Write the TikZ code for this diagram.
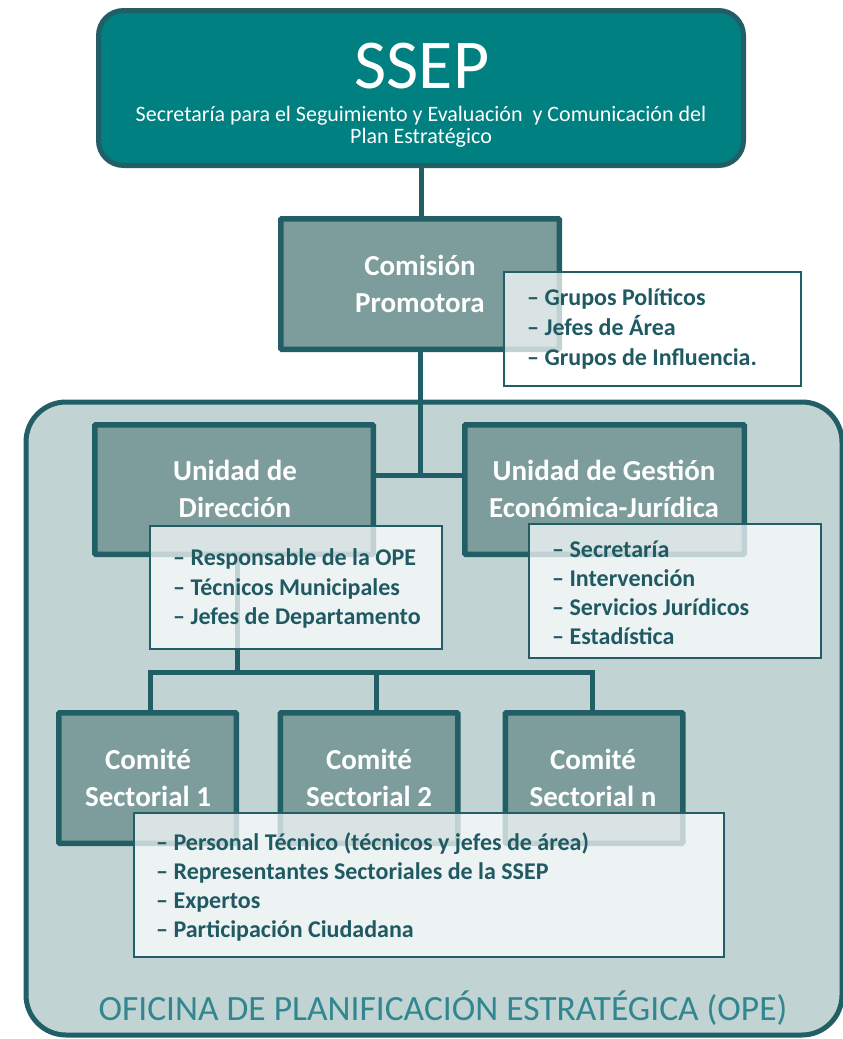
\documentclass[tikz,border=0pt]{standalone}
\usepackage{fontspec}
\setmainfont{Carlito}
\definecolor{ssepteal}{RGB}{0,128,128}
\definecolor{bordc}{RGB}{34,94,102}
\definecolor{boxfill}{RGB}{125,156,156}
\definecolor{opefill}{RGB}{193,211,211}
\definecolor{listtxt}{RGB}{31,90,99}
\definecolor{opelabel}{RGB}{49,135,143}
\begin{document}
\begin{tikzpicture}[x=1pt,y=-1pt,
  darkbox/.style={draw=bordc, line width=5.5pt, fill=boxfill, rectangle, inner sep=0pt, rounded corners=1pt},
  listbox/.style={draw=bordc, line width=1.8pt, fill=white, fill opacity=0.72, rectangle, inner sep=0pt},
  conn/.style={draw=bordc, line width=5pt},
  titletext/.style={text=white, font=\fontsize{29}{29}\selectfont\bfseries, inner sep=0pt, anchor=base},
  itemtext/.style={text=listtxt, font=\fontsize{24}{24}\selectfont\bfseries, inner sep=0pt, anchor=base west},
]
\useasboundingbox (0,0) rectangle (843,1039);
% outer office box
\node[draw=bordc, line width=5pt, fill=opefill, rounded corners=40pt, minimum width=816pt, minimum height=633pt, inner sep=0pt] (ope) at (434,718.5) {};
% SSEP box
\node[draw=bordc, line width=5pt, fill=ssepteal, rounded corners=25pt, minimum width=645pt, minimum height=155pt, inner sep=0pt] (ssep) at (421,88) {};
% dark boxes
\node[darkbox, minimum width=278.5pt, minimum height=130.5pt] (comision) at (420,284) {};
\node[darkbox, minimum width=278.5pt, minimum height=129.5pt] (udir) at (234,489.5) {};
\node[darkbox, minimum width=279.5pt, minimum height=129.5pt] (ugest) at (604.5,489.5) {};
\node[darkbox, minimum width=177.5pt, minimum height=130.5pt] (c1) at (147.5,778) {};
\node[darkbox, minimum width=177.5pt, minimum height=130.5pt] (c2) at (369,778) {};
\node[darkbox, minimum width=177.5pt, minimum height=130.5pt] (c3) at (594,778) {};
% connectors
\coordinate (j1) at (421,475);
\coordinate (j2) at (237,672);
\coordinate (k1) at (150,672);
\coordinate (k2) at (376,672);
\coordinate (k3) at (592,672);
\draw[conn] (ssep.south) -- (ssep.south |- comision.north);
\draw[conn] (comision.south) -- (comision.south |- j1);
\draw[conn] (udir.east |- j1) -- (ugest.west |- j1);
\draw[conn] (j2 |- udir.south) -- (j2);
\draw[conn] (k1 |- c1.north) -- (k1) -- (k3) -- (k3 |- c3.north);
\draw[conn] (k2) -- (k2 |- c2.north);
% SSEP texts
\node[text=white, font=\fontsize{70}{70}\selectfont, anchor=base, inner sep=0pt] (sseptitle) at (422,88) {SSEP};
\node[text=white, font=\fontsize{22}{22}\selectfont, anchor=base, inner sep=0pt] (ssepsub1) at (421,121) {Secretaría para el Seguimiento y Evaluación\ \ y Comunicación del};
\node[text=white, font=\fontsize{22}{22}\selectfont, anchor=base, inner sep=0pt] (ssepsub2) at (421,143) {Plan Estratégico};
% titles
\node[titletext] (tcom1) at (420,275) {Comisión};
\node[titletext] (tcom2) at (420,312) {Promotora};
\node[titletext] (tudir1) at (235,480) {Unidad de};
\node[titletext] (tudir2) at (235,517) {Dirección};
\node[titletext] (tug1) at (604,480) {Unidad de Gestión};
\node[titletext] (tug2) at (604,517) {Económica-Jurídica};
\node[titletext] (tc11) at (148,769) {Comité};
\node[titletext] (tc12) at (148,806) {Sectorial 1};
\node[titletext] (tc21) at (369,769) {Comité};
\node[titletext] (tc22) at (369,806) {Sectorial 2};
\node[titletext] (tc31) at (593,769) {Comité};
\node[titletext] (tc32) at (593,806) {Sectorial n};
% list boxes
\node[listbox, minimum width=297pt, minimum height=114pt] (grupos) at (652.5,329) {};
\node[listbox, minimum width=292pt, minimum height=123pt] (resp) at (296,587.5) {};
\node[listbox, minimum width=292pt, minimum height=134pt] (secr) at (675,591) {};
\node[listbox, minimum width=590pt, minimum height=144pt] (pers) at (429,885) {};
% list texts
\node[itemtext] (g1) at (527,305) {– Grupos Políticos};
\node[itemtext] (g2) at (527,335) {– Jefes de Área};
\node[itemtext] (g3) at (527,365) {– Grupos de Influencia.};
\node[itemtext] (r1) at (173,565) {– Responsable de la OPE};
\node[itemtext] (r2) at (173,595) {– Técnicos Municipales};
\node[itemtext] (r3) at (173,624) {– Jefes de Departamento};
\node[itemtext] (s1) at (552,557) {– Secretaría};
\node[itemtext] (s2) at (552,586) {– Intervención};
\node[itemtext] (s3) at (552,615) {– Servicios Jurídicos};
\node[itemtext] (s4) at (552,644) {– Estadística};
\node[itemtext] (p1) at (156,850) {– Personal Técnico (técnicos y jefes de área)};
\node[itemtext] (p2) at (156,879) {– Representantes Sectoriales de la SSEP};
\node[itemtext] (p3) at (156,908) {– Expertos};
\node[itemtext] (p4) at (156,937) {– Participación Ciudadana};
% office label
\node[text=opelabel, font=\fontsize{35.5}{35.5}\selectfont, anchor=base, inner sep=0pt] (opelbl) at (443,1020) {OFICINA DE PLANIFICACIÓN ESTRATÉGICA (OPE)};
\end{tikzpicture}
\end{document}
